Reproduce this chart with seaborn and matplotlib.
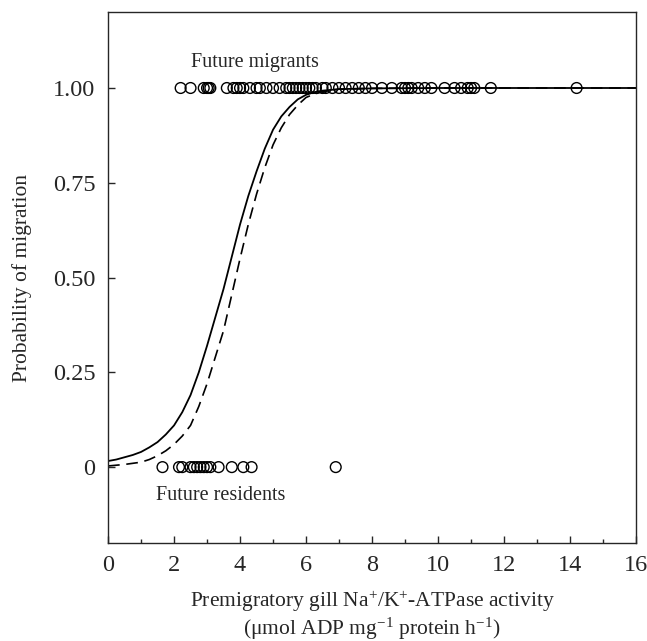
import numpy as np
import pandas as pd
import matplotlib
matplotlib.use("Agg")
import matplotlib.pyplot as plt
import seaborn as sns

# Observed fish: gill ATPase activity of future migrants (prob = 1)
migrants_x = [2.2, 2.5, 2.9, 3.0, 3.05, 3.1, 3.6, 3.8, 3.9, 4.0, 4.1, 4.3,
              4.5, 4.6, 4.8, 5.0, 5.2, 5.4, 5.5, 5.6, 5.7, 5.8, 5.9, 6.0,
              6.1, 6.2, 6.3, 6.5, 6.6, 6.8, 7.0, 7.2, 7.4, 7.6, 7.8, 8.0,
              8.3, 8.6, 8.9, 9.0, 9.1, 9.2, 9.4, 9.6, 9.8, 10.2, 10.5,
              10.7, 10.9, 11.0, 11.1, 11.6, 14.2]
# future residents (prob = 0)
residents_x = [1.65, 2.15, 2.25, 2.5, 2.6, 2.7, 2.8, 2.9, 3.0, 3.1, 3.35,
               3.75, 4.1, 4.35, 6.9]

# fitted curves
curve_x = [0, 0.25, 0.5, 0.75, 1, 1.25, 1.5, 1.75, 2, 2.25, 2.5, 2.75, 3,
           3.25, 3.5, 3.75, 4, 4.25, 4.5, 4.75, 5, 5.25, 5.5, 5.75, 6,
           6.25, 6.5, 7, 8, 10, 12, 14, 16]
solid_p = [0.016, 0.02, 0.026, 0.032, 0.04, 0.052, 0.066, 0.086, 0.11,
           0.145, 0.19, 0.25, 0.32, 0.395, 0.47, 0.555, 0.64, 0.715, 0.78,
           0.84, 0.89, 0.925, 0.95, 0.97, 0.982, 0.989, 0.993, 0.997,
           0.999, 1.0, 1.0, 1.0, 1.0]
dashed_p = [0.003, 0.005, 0.007, 0.01, 0.013, 0.02, 0.03, 0.043, 0.06,
            0.082, 0.11, 0.16, 0.22, 0.29, 0.36, 0.455, 0.55, 0.64, 0.72,
            0.79, 0.85, 0.895, 0.93, 0.955, 0.975, 0.984, 0.99, 0.997,
            0.999, 1.0, 1.0, 1.0, 1.0]

sns.set_style("ticks")
plt.rcParams['font.family'] = ['Liberation Serif', 'DejaVu Serif']
plt.rcParams['mathtext.fontset'] = 'custom'
plt.rcParams['mathtext.rm'] = 'Liberation Serif'
plt.rcParams['mathtext.it'] = 'Liberation Serif:italic'

pts = pd.DataFrame({
    "x": migrants_x + residents_x,
    "p": [1.0] * len(migrants_x) + [0.0] * len(residents_x),
})
curves = pd.DataFrame({"x": curve_x, "solid": solid_p, "dashed": dashed_p})

fig = plt.figure(figsize=(6.47, 6.41), dpi=100)
ax = fig.add_axes([0.167, 0.153, 0.816, 0.828])

sns.lineplot(data=curves, x="x", y="dashed", ax=ax, color="black",
             linewidth=1.2, linestyle=(0, (7, 4)))
sns.lineplot(data=curves, x="x", y="solid", ax=ax, color="black",
             linewidth=1.3)
sns.scatterplot(data=pts, x="x", y="p", ax=ax, marker="o", s=60,
                facecolor="none", edgecolor="black", linewidth=1.0,
                zorder=3)

ax.set_xlim(0, 16)
ax.set_ylim(-0.2, 1.2)
ax.set_xticks(np.arange(0, 17, 2))
ax.set_xticks(np.arange(1, 16, 2), minor=True)
ax.set_yticks([0, 0.25, 0.5, 0.75, 1.0])
ax.set_yticklabels(["0", "0.25", "0.50", "0.75", "1.00"])
ax.tick_params(direction="in", labelsize=17.5, length=5, width=1)
ax.tick_params(axis="x", pad=9)
ax.tick_params(axis="y", pad=9)
ax.tick_params(which="minor", direction="in", length=3, width=1)
for s in ax.spines.values():
    s.set_linewidth(1)
    s.set_visible(True)

ax.text(2.5, 1.066, "Future migrants", fontsize=14.5, va="center")
ax.text(1.45, -0.076, "Future residents", fontsize=14.5, va="center")

ax.set_xlabel("Premigratory gill Na$^{+}$/K$^{+}$-ATPase activity\n"
              "(μmol ADP mg$^{-1}$ protein h$^{-1}$)", fontsize=15.5,
              linespacing=1.1, labelpad=9)
ax.set_ylabel("Probability of migration", fontsize=15.5, labelpad=15)

fig.savefig("out.png", dpi=100)
